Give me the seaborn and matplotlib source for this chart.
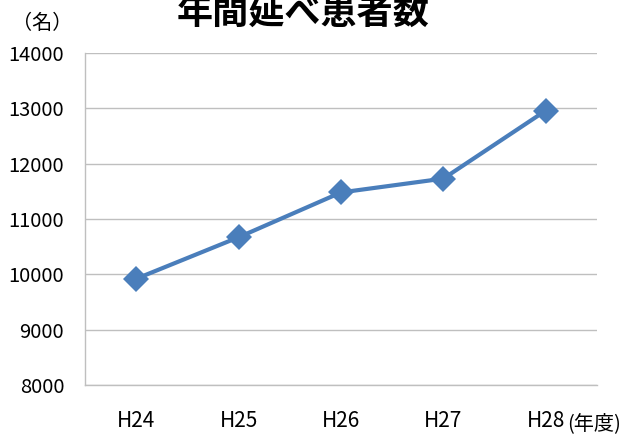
import matplotlib
matplotlib.use("Agg")
import matplotlib.pyplot as plt
import seaborn as sns
import pandas as pd
from matplotlib.ticker import FixedLocator

years = ["H24", "H25", "H26", "H27", "H28"]
patients = [9920, 10670, 11480, 11730, 12960]
yticks = [8000, 9000, 10000, 11000, 12000, 13000, 14000]

sns.set_theme(style="white")
plt.rcParams['font.family'] = ['Noto Sans CJK JP', 'DejaVu Sans']

df = pd.DataFrame({"year": years, "patients": patients})

fig = plt.figure(figsize=(6.41, 4.34), dpi=100)
ax = fig.add_axes([85/641, 1-385/434, (597-85)/641, (385-53)/434])

sns.lineplot(data=df, x="year", y="patients", ax=ax, color="#4A7EBB",
             linewidth=3, marker="D", markersize=13, markeredgewidth=0,
             sort=False)

ax.set_xlim(-0.5, len(years) - 0.5)
ax.set_ylim(yticks[0], yticks[-1])
ax.set_yticks(yticks)
ax.set_yticklabels([str(v) for v in yticks], fontsize=14.5, color="black")
ax.set_xticks(range(len(years)))
ax.set_xticklabels(years, fontsize=15, color="black")
ax.xaxis.set_minor_locator(FixedLocator([i - 0.5 for i in range(len(years) + 1)]))
ax.tick_params(axis="x", which="major", length=0, pad=18)
ax.tick_params(axis="x", which="minor", length=6, width=1, color="#BFBFBF", direction="out")
ax.tick_params(axis="y", which="major", length=7, width=1, color="#BFBFBF", direction="out", pad=8)
ax.grid(axis="y", color="#BFBFBF", linewidth=1)
ax.set_axisbelow(True)
for s in ["top", "right"]:
    ax.spines[s].set_visible(False)
for s in ["left", "bottom"]:
    ax.spines[s].set_color("#BFBFBF")
    ax.spines[s].set_linewidth(1)
ax.set_xlabel("")
ax.set_ylabel("")

fig.text(303/641, 1-24/434, "年間延べ患者数", fontsize=26, fontweight="bold",
         ha="center", va="baseline", color="black")
fig.text(42/641, 1-23/434, "（名）", fontsize=14.5, ha="center", va="center", color="black")
fig.text(567/641, 1-424/434, "(年度)", fontsize=14.5, ha="left", va="center", color="black")

fig.savefig("out.png", dpi=100)
